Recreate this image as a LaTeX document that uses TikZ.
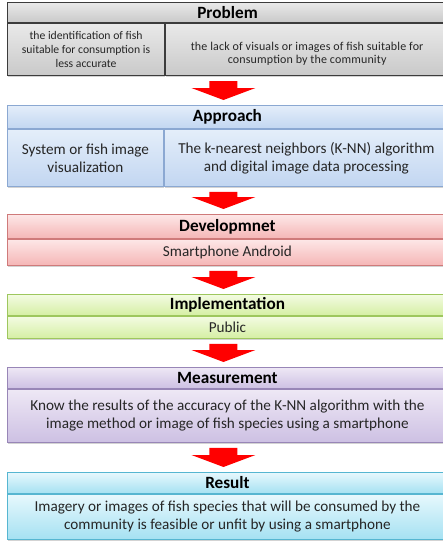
\documentclass[tikz,border=0pt]{standalone}
\usepackage{fontspec}
\setmainfont{Carlito}
\usetikzlibrary{calc,shadows}

\definecolor{textgray}{HTML}{262626}
\definecolor{arrowred}{HTML}{FF0000}
% colours of the six stages
\definecolor{probA}{HTML}{E9E9E9}\definecolor{probB}{HTML}{C9C9C9}\definecolor{probD}{HTML}{3C3C3C}
\definecolor{apprA}{HTML}{E4EEFA}\definecolor{apprB}{HTML}{C2D6F1}\definecolor{apprD}{HTML}{8BA8D2}
\definecolor{devA}{HTML}{FDE7E7}\definecolor{devB}{HTML}{F5B6B6}\definecolor{devD}{HTML}{CF7A7A}
\definecolor{implA}{HTML}{F3FBE2}\definecolor{implB}{HTML}{D5EFA4}\definecolor{implD}{HTML}{9EC75E}
\definecolor{measA}{HTML}{EEE8F5}\definecolor{measB}{HTML}{CDC0E3}\definecolor{measD}{HTML}{9886B7}
\definecolor{resA}{HTML}{E7F8FD}\definecolor{resB}{HTML}{A5E1F2}\definecolor{resD}{HTML}{56B6D1}

\tikzset{
  box/.style={draw, line width=0.9pt, anchor=north west, inner sep=0pt, align=center, text=textgray},
  titlebar/.style={box, minimum width=440, font=\fontsize{17.2}{19}\selectfont\bfseries, text=black},
  cell/.style={box, font=\fontsize{15.2}{18}\selectfont,
    drop shadow={shadow xshift=0.5pt, shadow yshift=-1.8pt, opacity=0.35}},
  smallcell/.style={cell, font=\fontsize{11.7}{13.8}\selectfont},
  widecell/.style={cell, font=\fontsize{12}{13.2}\selectfont\addfontfeatures{LetterSpace=1.3}},
  probcol/.style={top color=probA, bottom color=probB, draw=probD, line width=1.1pt},
  apprcol/.style={top color=apprA, bottom color=apprB, draw=apprD},
  devcol/.style={top color=devA, bottom color=devB, draw=devD},
  implcol/.style={top color=implA, bottom color=implB, draw=implD},
  meascol/.style={top color=measA, bottom color=measB, draw=measD},
  rescol/.style={top color=resA, bottom color=resB, draw=resD}
}

% big red arrow from one stage down to the next
\newcommand{\stageArrow}[2]{%
  \fill[arrowred] ($(#2.north |- #1.south)+(-18,5)$) -- ($(#2.north |- #1.south)+(10,5)$)
    -- ($(#2.north)+(10,-17)$) -- ($(#2.north)+(28,-17)$) -- ($(#2.north)+(-4,-5)$)
    -- ($(#2.north)+(-36,-17)$) -- ($(#2.north)+(-18,-17)$) -- cycle;}

\begin{document}
\begin{tikzpicture}[x=1pt,y=-1pt]
\useasboundingbox (0,0) rectangle (443,544);
\clip (0,0) rectangle (443,544);
% Problem
\node[titlebar, probcol, minimum height=20] (probT) at (7,2) {Problem};
\node[smallcell, probcol, minimum width=157, minimum height=52] (probL) at (probT.south west)
  {the identification of fish\\suitable for consumption is\\less accurate};
\node[widecell, probcol, minimum width=283, minimum height=52] (probR) at (probL.north east)
  {\rule{0pt}{16pt}the lack of visuals or images of fish suitable for\\consumption by the community};
% Approach
\node[titlebar, apprcol, minimum height=23] (apprT) at (7,105) {Approach};
\node[cell, apprcol, minimum width=156, minimum height=57] (apprL) at (apprT.south west)
  {System or fish image\\visualization};
\node[cell, apprcol, minimum width=284, minimum height=57] (apprR) at (apprL.north east)
  {The k-nearest neighbors (K-NN) algorithm\\and digital image data processing};
% Developmnet
\node[titlebar, devcol, minimum height=24] (devT) at (7,214) {Developmnet};
\node[cell, devcol, minimum width=440, minimum height=26] (devB) at (devT.south west)
  {Smartphone Android};
% Implementation
\node[titlebar, implcol, minimum height=21] (implT) at (7,294) {Implementation};
\node[cell, implcol, minimum width=440, minimum height=22] (implB) at (implT.south west)
  {Public};
% Measurement
\node[titlebar, meascol, minimum height=21] (measT) at (7,367) {Measurement};
\node[cell, meascol, minimum width=440, minimum height=53] (measB) at (measT.south west)
  {Know the results of the accuracy of the K-NN algorithm with the\\image method or image of fish species using a smartphone};
% Result
\node[titlebar, rescol, minimum height=21] (resT) at (7,472) {Result};
\node[cell, rescol, minimum width=440, minimum height=45] (resB) at (resT.south west)
  {Imagery or images of fish species that will be consumed by the\\community is feasible or unfit by using a smartphone};
% arrows
\stageArrow{probL}{apprT}
\stageArrow{apprL}{devT}
\stageArrow{devB}{implT}
\stageArrow{implB}{measT}
\stageArrow{measB}{resT}
\end{tikzpicture}
\end{document}
